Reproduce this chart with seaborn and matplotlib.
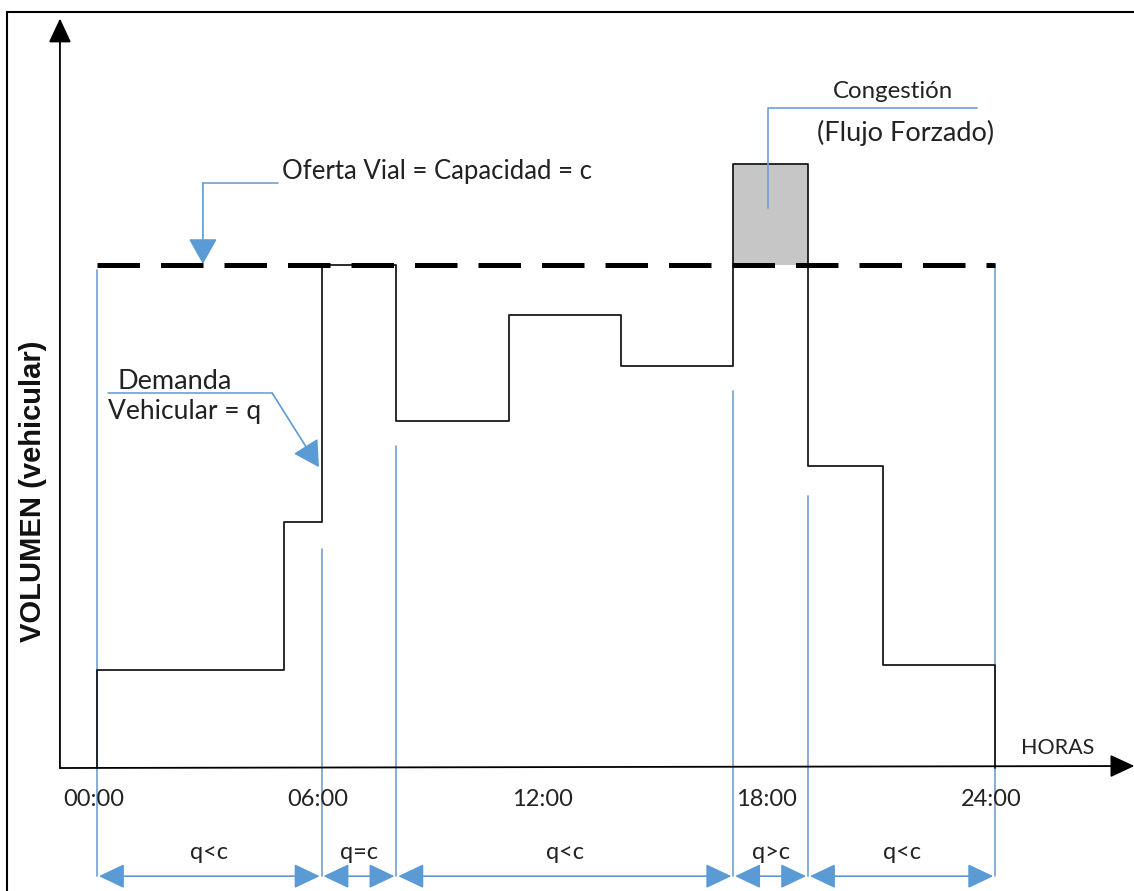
import matplotlib
matplotlib.use("Agg")
import matplotlib.pyplot as plt
import seaborn as sns

# Demand steps: start hour and level (capacity = 100)
step_start = [0, 5, 6, 8, 11, 14, 17, 19, 21]
demand = [19.5, 49, 100, 69, 90, 80, 120, 60, 20.5]
day_end = 24
capacity = 100

# regimes shown along the bottom
regime_edges = [0, 6, 8, 17, 19, 24]
regime_labels = ["q<c", "q=c", "q<c", "q>c", "q<c"]
guide_tops = [99, 43.5, 64, 75, 54, 100]  # where each blue guide starts

hour_ticks = [0, 6, 12, 18, 24]
hour_labels = ["00:00", "06:00", "12:00", "18:00", "24:00"]

sns.set_theme(style="white")
plt.rcParams["font.family"] = ["Lato", "DejaVu Sans"]

blue = "#6f9fcf"
head_blue = "#5b9bd5"
ink = "#222222"

fig = plt.figure(figsize=(11.34, 8.91), dpi=100)
ax = fig.add_axes([0, 0, 1, 1])
ax.set_xlim(-2.592, 27.71)
ax.set_ylim(-24.45, 152.68)
ax.axis("off")

# frame (left and top edges visible)
fig.add_artist(plt.Line2D([0.0062, 0.0062], [0, 0.9865], color="black", lw=1.5))
fig.add_artist(plt.Line2D([0.0062, 1], [0.9865, 0.9865], color="black", lw=1.5))

# axes arrows
axis_head = "-|>,head_length=0.75,head_width=0.35"
ax.annotate("", xy=(-0.99, 149.0), xytext=(-0.99, 0),
            arrowprops=dict(arrowstyle=axis_head, color="black", lw=1.3,
                            shrinkA=0, shrinkB=0, mutation_scale=20))
ax.annotate("", xy=(27.72, 0.4), xytext=(-0.99, 0),
            arrowprops=dict(arrowstyle=axis_head, color="black", lw=1.3,
                            shrinkA=0, shrinkB=0, mutation_scale=20))

# congestion area (demand above capacity)
fx = step_start + [day_end]
fy = [max(v, capacity) for v in demand + [demand[-1]]]
ax.fill_between(fx, capacity, fy, step="post", color="#c6c6c6", lw=0, zorder=0)

# demand step curve
xs = [step_start[0]] + step_start + [day_end, day_end]
ys = [0] + demand + [demand[-1], 0]
sns.lineplot(x=xs, y=ys, ax=ax, drawstyle="steps-post", sort=False,
             estimator=None, color="#1a1a1a", lw=1.3)

# capacity line
sns.lineplot(x=[0, day_end], y=[capacity, capacity], ax=ax, color="black",
             lw=3.6, dashes=False, linestyle=(0, (8.5, 4.2)))

# blue guides and bottom double arrows
arrow_y = -21.5
for e, top in zip(regime_edges, guide_tops):
    ax.plot([e, e], [top, arrow_y], color=blue, lw=1.2, zorder=1)
for a, b, lab in zip(regime_edges[:-1], regime_edges[1:], regime_labels):
    ax.annotate("", xy=(b - 0.05, arrow_y), xytext=(a + 0.05, arrow_y),
                arrowprops=dict(arrowstyle="<|-|>,head_length=0.8,head_width=0.38",
                                color=head_blue, lw=1.2, shrinkA=0, shrinkB=0,
                                mutation_scale=20))
    ax.text((a + b) / 2, -16.7, lab, ha="center", va="center", fontsize=17, color=ink)

for t, lab in zip(hour_ticks, hour_labels):
    ax.text(t - 0.1, -6.3, lab, ha="center", va="center", fontsize=17, color=ink)
ax.text(25.68, 4.0, "HORAS", ha="center", va="center", fontsize=15.5, color=ink)

ax.text(-1.72, 55, "VOLUMEN (vehicular)", rotation=90, ha="center", va="center",
        fontsize=21, fontweight="bold", family=["Liberation Sans", "DejaVu Sans"],
        color="#111111")

# callout: capacity
ax.plot([4.84, 2.83], [116.3, 116.3], color=blue, lw=1.2)
ax.annotate("", xy=(2.83, 100.2), xytext=(2.83, 116.3),
            arrowprops=dict(arrowstyle="-|>,head_length=0.8,head_width=0.45",
                            color=head_blue, lw=1.2, shrinkA=0, shrinkB=0, mutation_scale=20))
ax.text(4.94, 118.5, "Oferta Vial = Capacidad = c", ha="left", va="center",
        fontsize=18.5, color=ink)

# callout: demand
ax.plot([0.29, 4.68], [74.55, 74.55], color=blue, lw=1.2)
ax.annotate("", xy=(5.93, 59.8), xytext=(4.68, 74.55),
            arrowprops=dict(arrowstyle="-|>,head_length=0.8,head_width=0.45",
                            color=head_blue, lw=1.2, shrinkA=0, shrinkB=0, mutation_scale=20))
ax.text(2.08, 76.9, "Demanda", ha="center", va="center", fontsize=19.5, color=ink)
ax.text(2.35, 70.8, "Vehicular = q", ha="center", va="center", fontsize=19, color=ink)

# callout: congestion
ax.plot([23.52, 17.93, 17.93], [131.2, 131.2, 111.3], color=blue, lw=1.2)
ax.text(21.27, 134.4, "Congestión", ha="center", va="center", fontsize=17.3, color=ink)
ax.text(21.6, 126.2, "(Flujo Forzado)", ha="center", va="center", fontsize=19.5, color=ink)

fig.savefig("out.png", dpi=100, facecolor="white")
